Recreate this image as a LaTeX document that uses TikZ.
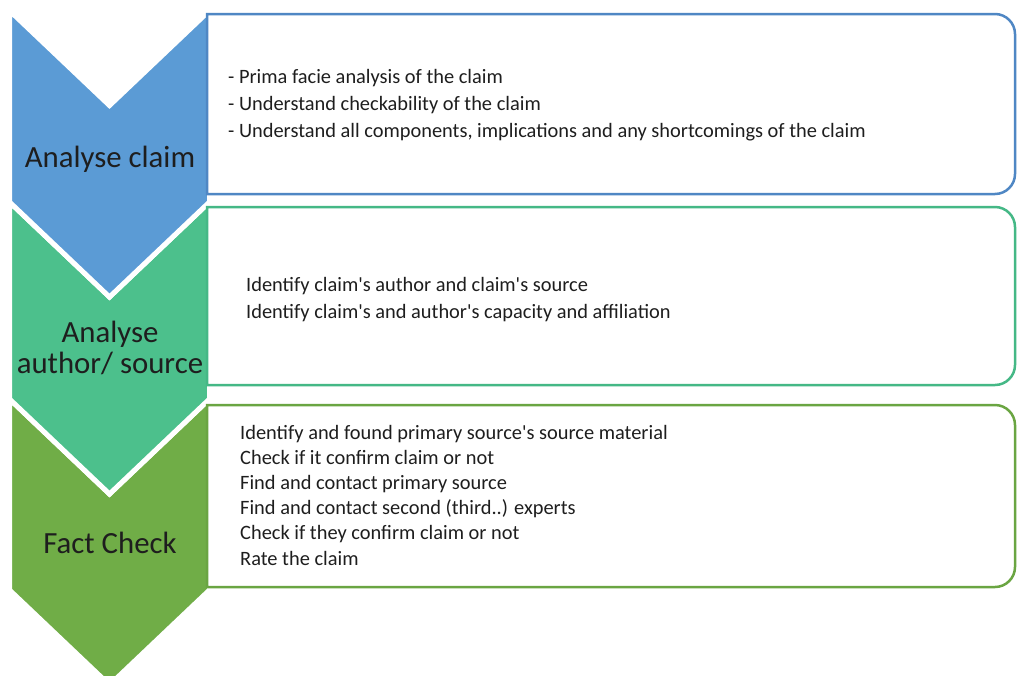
\documentclass[tikz,border=0pt]{standalone}
\usepackage{fontspec}
\setmainfont{Carlito}[Ligatures=TeXOff]
\definecolor{cblue}{HTML}{5B9BD5}
\definecolor{cteal}{HTML}{4CC08C}
\definecolor{cgreen}{HTML}{70AD47}
\definecolor{bblue}{HTML}{4F87C4}
\definecolor{bteal}{HTML}{45B886}
\definecolor{bgreen}{HTML}{6AA542}
\definecolor{txt}{HTML}{1E1E1E}
\begin{document}
\begin{tikzpicture}[x=1pt,y=-1pt,
  chev/.style={draw=white,line width=5pt,line join=miter},
  infobox/.style={line width=2.5pt,fill=white},
  lbl/.style={text=txt,font=\fontsize{30.8}{31}\selectfont,align=center,inner sep=0pt},
  body/.style={text=txt,align=left,inner sep=0pt,anchor=base west}]
\useasboundingbox (0,0) rectangle (1017,675);
\begin{scope}
\clip (0,0) rectangle (1017,675);
% chevrons
\fill[white] (0,0) rectangle (1017,675);
\path[chev,fill=cgreen] (9.5,399) -- (109.5,494) -- (209.5,399) -- (209.5,590) -- (109.5,685) -- (9.5,590) -- cycle;
\path[chev,fill=cteal] (9.5,202) -- (109.5,297) -- (209.5,202) -- (209.5,399) -- (109.5,494) -- (9.5,399) -- cycle;
\path[chev,fill=cblue] (9.5,10.5) -- (109.5,105.5) -- (209.5,10.5) -- (209.5,202) -- (109.5,297) -- (9.5,202) -- cycle;
\end{scope}
% boxes
\draw[infobox,draw=bblue] (207,14) -- (995,14) .. controls (1006,14) and (1015,23) .. (1015,34) -- (1015,174) .. controls (1015,185) and (1006,194) .. (995,194) -- (207,194) -- cycle;
\draw[infobox,draw=bteal] (207,207) -- (995,207) .. controls (1006,207) and (1015,216) .. (1015,227) -- (1015,365) .. controls (1015,376) and (1006,385) .. (995,385) -- (207,385) -- cycle;
\draw[infobox,draw=bgreen] (207,405) -- (995,405) .. controls (1006,405) and (1015,414) .. (1015,425) -- (1015,567) .. controls (1015,578) and (1006,587) .. (995,587) -- (207,587) -- cycle;
% labels
\node[lbl,anchor=base] (l1) at (110,167) {Analyse claim};
\node[lbl] (l2) at (110,347.5) {Analyse\\author/ source};
\node[lbl,anchor=base] (l3) at (110,553) {Fact Check};
% body texts
\node[body,font=\fontsize{20.4}{27}\selectfont] (t1) at (228,137) {- Prima facie analysis of the claim\\- Understand checkability of the claim\\- Understand all components, implications and any shortcomings of the claim};
\node[body,font=\fontsize{20.4}{26.5}\selectfont] (t2) at (246,318) {Identify claim's author and claim's source\\Identify claim's and author's capacity and affiliation};
\node[body,font=\fontsize{20.4}{25.2}\selectfont] (t3) at (240,565) {Identify and found primary source's source material\\Check if it confirm claim or not\\Find and contact primary source\\Find and contact second (third..) experts\\Check if they confirm claim or not\\Rate the claim};
\end{tikzpicture}
\end{document}
